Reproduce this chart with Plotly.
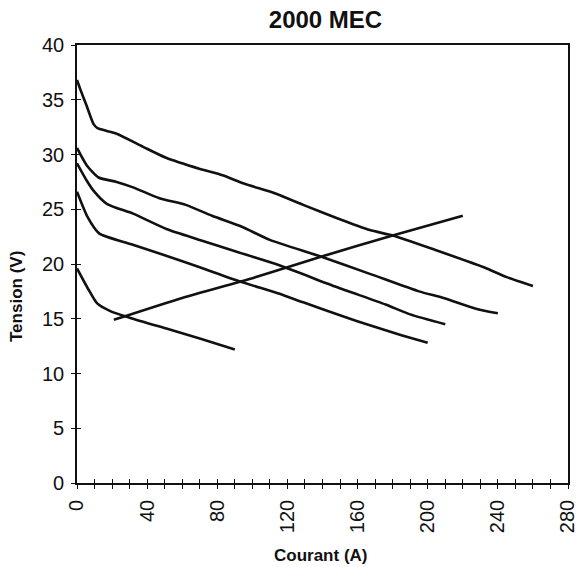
import plotly.graph_objects as go

# Courbes tension / courant (A, V)
courant_1 = [0, 2, 5.6, 9.4, 11.7, 22.6, 37.7, 50.8, 69.7, 83, 96, 112, 129, 148, 167, 180, 204, 232, 245, 260]
tension_1 = [36.8, 35.9, 34.4, 32.8, 32.4, 31.9, 30.7, 29.7, 28.7, 28.1, 27.3, 26.5, 25.4, 24.2, 23.1, 22.6, 21.3, 19.7, 18.8, 18.0]

courant_2 = [0, 5.6, 12.3, 22.6, 32, 47, 62, 77, 94, 110, 138.6, 167, 195, 209, 228, 240]
tension_2 = [30.6, 29.0, 27.9, 27.5, 27.0, 26.0, 25.4, 24.4, 23.4, 22.2, 20.7, 19.1, 17.5, 16.9, 15.9, 15.5]

courant_3 = [0, 5.6, 9.4, 17, 32, 51, 70, 91.5, 115, 148, 176, 190, 210]
tension_3 = [29.2, 27.6, 26.7, 25.5, 24.6, 23.2, 22.2, 21.1, 19.9, 17.9, 16.3, 15.4, 14.5]

courant_4 = [0, 6, 12.6, 31, 50, 70, 93, 115, 129, 152, 167, 185, 200]
tension_4 = [26.6, 24.3, 22.8, 21.8, 20.8, 19.7, 18.4, 17.3, 16.5, 15.2, 14.4, 13.5, 12.8]

courant_5 = [0, 6.8, 11.5, 19, 30, 51, 70, 90]
tension_5 = [19.6, 17.6, 16.4, 15.7, 15.1, 14.1, 13.2, 12.2]

# Droite de charge
courant_charge = [21, 60, 100, 140, 180, 220]
tension_charge = [14.9, 16.9, 18.7, 20.7, 22.6, 24.4]

x_ticks = [0, 40, 80, 120, 160, 200, 240, 280]
y_ticks = [0, 5, 10, 15, 20, 25, 30, 35, 40]

FONT = "Liberation Sans, Arial, Helvetica, sans-serif"
INK = "#111111"

W, H = 577, 567
M_L, M_R, M_T, M_B = 77, 9, 45, 84
PW, PH = W - M_L - M_R, H - M_T - M_B

fig = go.Figure()
for xs, ys in [(courant_1, tension_1), (courant_2, tension_2), (courant_3, tension_3),
               (courant_4, tension_4), (courant_5, tension_5), (courant_charge, tension_charge)]:
    fig.add_trace(go.Scatter(x=xs, y=ys, mode="lines",
                             line=dict(color=INK, width=2.6, shape="spline", smoothing=0.6),
                             showlegend=False, hoverinfo="skip"))

# invisible anchor trace so the overlay axes (inner half of the crossing ticks) get drawn
fig.add_trace(go.Scatter(x=[x_ticks[0]], y=[y_ticks[0]], xaxis="x2", yaxis="y2",
                         mode="markers", marker=dict(size=1, opacity=0),
                         showlegend=False, hoverinfo="skip"))

common_x = dict(range=[0, 280], tickvals=x_ticks, showgrid=False, zeroline=False, automargin=False)
common_y = dict(range=[0, 40], tickvals=y_ticks, showgrid=False, zeroline=False, automargin=False)
tick_style = dict(ticklen=4, tickwidth=1.4, tickcolor=INK)

fig.update_layout(
    width=W, height=H,
    margin=dict(l=M_L, r=M_R, t=M_T, b=M_B),
    paper_bgcolor="white", plot_bgcolor="white",
    font=dict(family=FONT, color=INK),
    title=dict(text="<b>2000 MEC</b>", x=(M_L + PW / 2 + 3) / W, xanchor="center",
               y=1 - 20 / H, yanchor="middle", yref="container",
               font=dict(size=24, family=FONT, color=INK)),
    xaxis=dict(**common_x, ticktext=[str(v) for v in x_ticks],
               showline=True, linecolor=INK, linewidth=1.6, mirror=True,
               ticks="outside", **tick_style,
               minor=dict(dtick=10, ticks="outside", **tick_style),
               tickangle=-90, tickfont=dict(size=20, family=FONT, color=INK),
               ticklabelstandoff=3, ticklabeloverflow="allow"),
    yaxis=dict(**common_y, showline=True, linecolor=INK, linewidth=1.6, mirror=True,
               ticks="outside", **tick_style,
               tickfont=dict(size=20, family=FONT, color=INK),
               ticklabelstandoff=3, ticklabeloverflow="allow"),
    xaxis2=dict(**common_x, overlaying="x", side="bottom", showline=False,
                ticks="inside", **tick_style,
                minor=dict(dtick=10, ticks="inside", **tick_style),
                showticklabels=False),
    yaxis2=dict(**common_y, overlaying="y", side="left", showline=False,
                ticks="inside", **tick_style,
                showticklabels=False),
    annotations=[
        dict(text="<b>Tension (V)</b>", textangle=-90, xref="paper", yref="paper",
             x=(16 - M_L) / PW, y=(H - M_B - 297) / PH, xanchor="center", yanchor="middle",
             showarrow=False, font=dict(size=17, family=FONT, color=INK)),
        dict(text="<b>Courant (A)</b>", xref="paper", yref="paper",
             x=(320 - M_L) / PW, y=(H - M_B - 555) / PH, xanchor="center", yanchor="middle",
             showarrow=False, font=dict(size=17, family=FONT, color=INK)),
    ],
)

fig.write_html("out.html")
